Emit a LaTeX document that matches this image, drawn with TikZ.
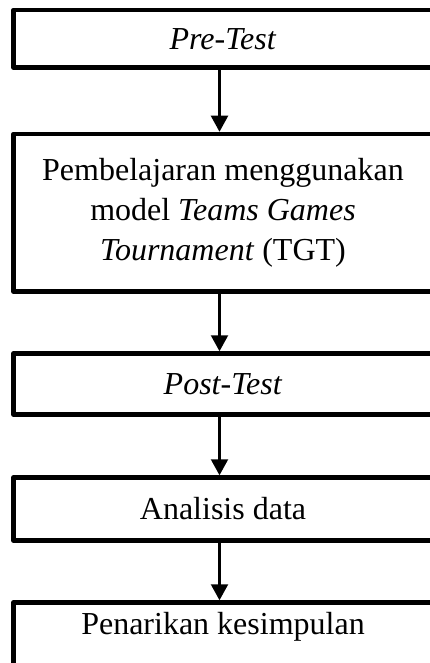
\documentclass[tikz,border=0pt]{standalone}
\usepackage{fontspec}
\setmainfont{Liberation Serif}
\usetikzlibrary{arrows.meta}
\begin{document}
\begin{tikzpicture}[x=1pt,y=-1pt,
  box/.style={draw, line width=4.5pt, line join=round, minimum width=419pt,
    inner sep=0pt, align=center, font=\fontsize{32}{40}\selectfont},
  arr/.style={line width=2.2pt, -{Triangle[width=17pt,length=16pt]}}]
\useasboundingbox (0,0) rectangle (429,663);
\node[box, minimum height=57.5pt] (b1) at (223,38.75) {\textit{Pre-Test}};
\node[box, minimum height=157.5pt] (b2) at (223,212.75)
  {Pembelajaran menggunakan\\ model \textit{Teams Games}\\ \textit{Tournament} (TGT)};
\node[box, minimum height=61pt] (b3) at (223,384) {\textit{Post-Test}};
\node[box, minimum height=63pt] (b4) at (223,509) {Analisis data};
\node[box, anchor=north, text height=31.5pt, text depth=80pt] (b5) at (223,600.25)
  {Penarikan kesimpulan};
\coordinate (ax) at (219.5,0);
\draw[arr] (b1.south -| ax) -- (b2.north -| ax);
\draw[arr] (b2.south -| ax) -- (b3.north -| ax);
\draw[arr] (b3.south -| ax) -- (b4.north -| ax);
\draw[arr] (b4.south -| ax) -- (b5.north -| ax);
\end{tikzpicture}
\end{document}
